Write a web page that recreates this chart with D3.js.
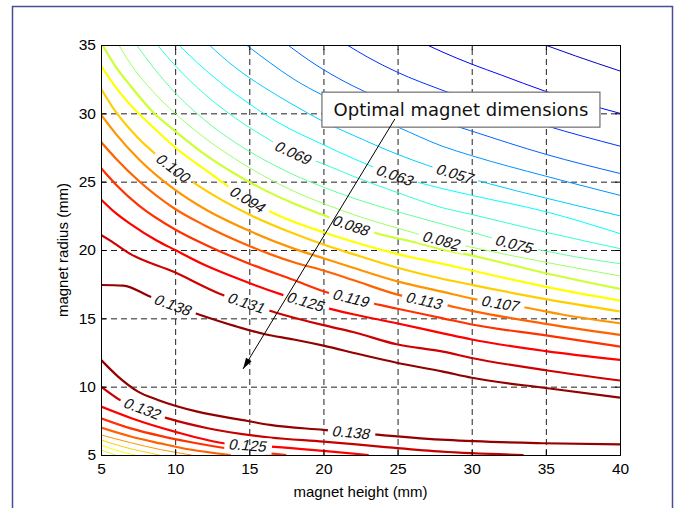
<!DOCTYPE html>
<html>
<head>
<meta charset="utf-8">
<script src="https://cdn.jsdelivr.net/npm/d3@7"></script>
<style>
  body { margin: 0; background: #fff; }
  text { font-family: "Liberation Sans", Arial, sans-serif; }
</style>
</head>
<body>
<svg width="689" height="508"></svg>
<script>
"use strict";

// axis ticks
const heightTicks = [5, 10, 15, 20, 25, 30, 35, 40];
const radiusTicks = [5, 10, 15, 20, 25, 30, 35];

// contour lines: [magnet height mm, magnet radius mm]
const line025 = [[34.95, 35], [37, 34.2], [40, 33.1]];
const line032 = [[27.0, 35], [28, 34.5], [30, 33.6], [32, 32.8], [35, 31.6], [40, 30.0]];
const line038 = [[21.6, 35], [23, 34.1], [25, 33.0], [28, 31.7], [30, 30.9], [35, 29.1], [40, 27.6]];
const line044 = [[17.6, 35], [19, 33.9], [20, 33.2], [22, 32.0], [25, 30.6], [28, 29.4], [30, 28.7], [35, 27.0], [40, 25.6]];
const line050 = [[14.8, 35], [16.4, 33.7], [18, 32.5], [20, 31.3], [22, 30.3], [25, 29.0], [28, 27.6], [30, 26.9], [35, 25.4], [40, 24.0]];
const line057 = [[12.3, 35], [14, 33.4], [16, 31.9], [18, 30.6], [20, 29.4], [22, 28.4], [25, 27.0], [27, 26.2], [31, 24.9], [35, 23.8], [40, 22.5]];
const line063 = [[10.25, 35], [11.5, 33.7], [13, 32.3], [15, 30.7], [17, 29.3], [20, 27.7], [22, 26.7], [25, 25.4], [28, 24.5], [30, 24.0], [35, 22.8], [40, 21.2]];
const line069 = [[8.8, 35], [10, 33.5], [12, 31.4], [14, 29.7], [16, 28.3], [18, 27.1], [20, 26.3], [22, 25.4], [25, 24.2], [28, 23.1], [30, 22.6], [35, 21.3], [40, 20.1]];
const line075 = [[7.4, 35], [8.5, 33.4], [10, 31.5], [12, 29.5], [14, 27.9], [16, 26.6], [18, 25.5], [20, 24.6], [22, 23.8], [25, 22.8], [28, 21.9], [30, 21.3], [33, 20.4], [36, 19.7], [40, 19.0]];
const line082 = [[6.2, 35], [7, 33.6], [8.5, 31.6], [10, 30.0], [12, 28.2], [14, 26.7], [16, 25.4], [18, 24.3], [20, 23.4], [22, 22.6], [25, 21.6], [28, 20.7], [30, 20.2], [35, 19.1], [40, 18.1]];
const line088 = [[5.1, 35], [6, 33.4], [7, 32.0], [8.5, 30.1], [10, 28.7], [12, 27.0], [14, 25.6], [16, 24.4], [18, 23.4], [20, 22.56], [22, 21.75], [24, 21.1], [26, 20.6], [28, 20.05], [30, 19.6], [35, 18.3], [40, 17.15]];
const line094 = [[5, 33.5], [6, 31.9], [7, 30.6], [8.5, 29.0], [10, 27.5], [12, 25.9], [14.9, 23.7], [17, 22.5], [20, 21.3], [22, 20.6], [25, 19.7], [28, 19.0], [30, 18.5], [35, 17.3], [40, 16.3]];
const line100 = [[5, 31.8], [6, 30.1], [7.5, 28.2], [9.86, 26.0], [12, 24.4], [15, 22.6], [18, 21.2], [20, 20.4], [22, 19.7], [25, 18.7], [28, 17.9], [30, 17.45], [35, 16.4], [40, 15.5]];
const line107 = [[5, 29.9], [6, 28.5], [7.5, 26.7], [10, 24.4], [12, 23.0], [15, 21.4], [18, 20.1], [20, 19.4], [22, 18.7], [25, 17.7], [28, 16.95], [30.2, 16.4], [33.9, 15.74], [36, 15.3], [40, 14.64]];
const line113 = [[5, 27.9], [6, 26.7], [7.5, 25.1], [10, 23.0], [12, 21.8], [15, 20.3], [16.4, 19.7], [18, 19.1], [20, 18.5], [22, 17.8], [24.94, 16.75], [28.7, 15.86], [30, 15.55], [35, 14.6], [40, 13.79]];
const line119 = [[5, 26.0], [6, 24.8], [7.5, 23.3], [10, 21.5], [12, 20.4], [15, 19.0], [18, 17.8], [20.1, 16.95], [23.8, 15.98], [25, 15.7], [28.06, 15.0], [30, 14.55], [35, 13.75], [40, 12.93]];
const line125 = [[5, 23.7], [6, 22.7], [7, 21.9], [8.75, 20.7], [10, 20.0], [12, 18.9], [14, 18.0], [17.3, 16.7], [20.8, 15.6], [22, 15.3], [24.94, 14.64], [28.06, 13.9], [30, 13.45], [35, 12.6], [40, 11.96]];
const line131 = [[5, 21.1], [5.6, 20.7], [7, 19.7], [9.9, 18.4], [13, 16.8], [16.7, 15.45], [20, 14.5], [22, 14.0], [24.94, 13.1], [28.06, 12.56], [30, 12.1], [35, 11.2], [40, 10.45]];
const line138 = [[5, 17.44], [6.5, 17.4], [8.3, 16.6], [11.7, 15.25], [14, 14.45], [16, 13.85], [18, 13.45], [20, 13.0], [22.5, 12.35], [24.94, 11.75], [28.06, 11.1], [30, 10.65], [35, 9.9], [40, 9.2]];

// lower family, bottom-left corner
const low138 = [[5, 11.96], [6.15, 10.74], [7.5, 9.64], [8.84, 9.03], [11.5, 8.17], [14.9, 7.49], [16.4, 7.2], [20, 6.84], [23.8, 6.47], [28.3, 6.1], [34.8, 5.86], [40, 5.78]];
const low132 = [[5, 10.0], [6.26, 9.03], [9.63, 7.64], [12.2, 6.96], [16.4, 6.28], [20, 5.98], [24, 5.6], [28, 5.25], [33.5, 5.0]];
const low125 = [[5, 8.54], [7.05, 7.69], [9.97, 6.71], [13.56, 5.81], [16.7, 5.6], [20, 5.3], [23.05, 5.0]];
const low119 = [[5, 7.69], [7, 6.95], [9, 6.4], [11, 5.95], [14, 5.4], [17.5, 5.0]];
const low113 = [[5, 7.0], [7, 6.35], [9, 5.85], [11, 5.4], [13.74, 5.0]];
const low107 = [[5, 6.47], [7, 5.9], [9, 5.4], [11.1, 5.0]];
const low100 = [[5, 6.1], [6.5, 5.6], [8.95, 5.0]];
const low094 = [[5, 5.73], [6, 5.35], [7.3, 5.0]];
const low088 = [[5, 5.37], [5.98, 5.0]];

const upperLevels = [0.025, 0.032, 0.038, 0.044, 0.050, 0.057, 0.063, 0.069, 0.075, 0.082, 0.088, 0.094, 0.100, 0.107, 0.113, 0.119, 0.125, 0.131, 0.138];
const upperLines = [line025, line032, line038, line044, line050, line057, line063, line069, line075, line082, line088, line094, line100, line107, line113, line119, line125, line131, line138];
const lowerLevels = [0.138, 0.132, 0.125, 0.119, 0.113, 0.107, 0.100, 0.094, 0.088];
const lowerLines = [low138, low132, low125, low119, low113, low107, low100, low094, low088];

// inline labels: text, the line it sits on, and its height position
const labelTexts = ["0.069", "0.063", "0.057", "0.100", "0.094", "0.088", "0.082", "0.075", "0.119", "0.113", "0.107", "0.125", "0.131", "0.138", "0.132", "0.125", "0.138"];
const labelLines = [line069, line063, line057, line100, line094, line088, line082, line075, line119, line113, line107, line125, line131, line138, low132, low125, low138];
const labelHeights = [18.0, 24.86, 28.9, 9.9, 14.93, 21.9, 28.0, 32.9, 21.9, 26.84, 31.97, 18.84, 14.84, 9.89, 7.82, 14.93, 21.9];

// annotation: arrow from the text box to the optimum
const noteText = "Optimal magnet dimensions";
const arrowFrom = [24.82, 29.59];
const arrowTo = [14.58, 11.3];

const svg = d3.select("svg");
const width = +svg.attr("width");
const height = +svg.attr("height");
const margin = { top: 45, right: 69, bottom: 53, left: 101 };
const innerWidth = width - margin.left - margin.right;
const innerHeight = height - margin.top - margin.bottom;

// MATLAB jet colour map over the contour range
const jet = level => {
  const t = (level - 0.0167) / 0.1237;
  const c = v => Math.round(255 * Math.max(0, Math.min(1, v)));
  return `rgb(${c(1.5 - Math.abs(4 * t - 3))},${c(1.5 - Math.abs(4 * t - 2))},${c(1.5 - Math.abs(4 * t - 1))})`;
};

svg.append("path")
  .attr("d", `M12.5,${height}V6.5H672.5V${height}`)
  .attr("fill", "none")
  .attr("stroke", "#4b4b9b")
  .attr("stroke-width", 1.5);

const xScale = d3.scaleLinear().domain([5, 40]).range([0, innerWidth]);
const yScale = d3.scaleLinear().domain([5, 35]).range([innerHeight, 0]);

const g = svg.append("g").attr("transform", `translate(${margin.left},${margin.top})`);
const defs = svg.append("defs");
defs.append("clipPath").attr("id", "plotClip")
  .append("rect").attr("width", innerWidth).attr("height", innerHeight);

// dashed grid
g.append("g")
  .attr("class", "grid")
  .attr("transform", `translate(0,${innerHeight})`)
  .call(d3.axisBottom(xScale).tickValues(heightTicks.slice(1, -1)).tickSize(-innerHeight).tickFormat(""));
g.append("g")
  .attr("class", "grid")
  .call(d3.axisLeft(yScale).tickValues(radiusTicks.slice(1, -1)).tickSize(-innerWidth).tickFormat(""));
g.selectAll(".grid .domain").remove();
g.selectAll(".grid text").remove();
g.selectAll(".grid line")
  .attr("stroke", "#222")
  .attr("stroke-width", 1)
  .attr("stroke-dasharray", "6,4");

const rAt = (pts, h) => {
  for (let i = 1; i < pts.length; i++) {
    if (h <= pts[i][0]) {
      const a = pts[i - 1], b = pts[i];
      return a[1] + (b[1] - a[1]) * (h - a[0]) / (b[0] - a[0]);
    }
  }
  return pts[pts.length - 1][1];
};

// labels and the gaps they cut in the lines
const mask = defs.append("mask")
  .attr("id", "labelGaps")
  .attr("maskUnits", "userSpaceOnUse")
  .attr("x", -20).attr("y", -20)
  .attr("width", innerWidth + 40).attr("height", innerHeight + 40);
mask.append("rect")
  .attr("x", -20).attr("y", -20)
  .attr("width", innerWidth + 40).attr("height", innerHeight + 40)
  .attr("fill", "white");

const contourG = g.append("g").attr("clip-path", "url(#plotClip)");
const linesG = contourG.append("g").attr("mask", "url(#labelGaps)");
const labelG = g.append("g");

const lineGen = d3.line()
  .x(d => xScale(d[0]))
  .y(d => yScale(d[1]))
  .curve(d3.curveMonotoneX);

const contours = upperLines.map((pts, i) => ({ pts, level: upperLevels[i], lower: false }))
  .concat(lowerLines.map((pts, i) => ({ pts, level: lowerLevels[i], lower: true })));

linesG.selectAll("path")
  .data(contours)
  .enter()
  .append("path")
  .attr("d", d => lineGen(d.pts))
  .attr("fill", "none")
  .attr("stroke", d => jet(d.level))
  .attr("stroke-width", d => (d.level < 0.085 || (d.lower && d.level < 0.11) ? 1 : 2.2))
  .attr("stroke-linejoin", "round");

labelTexts.forEach((txt, i) => {
  const pts = labelLines[i];
  const h = labelHeights[i];
  const px = xScale(h), py = yScale(rAt(pts, h));
  const ax = xScale(h - 0.8), ay = yScale(rAt(pts, h - 0.8));
  const bx = xScale(h + 0.8), by = yScale(rAt(pts, h + 0.8));
  const angle = Math.atan2(by - ay, bx - ax) * 180 / Math.PI;
  // slanted like the original labels
  const t = labelG.append("text")
    .attr("transform", `translate(${px},${py}) rotate(${angle}) skewX(-13)`)
    .attr("text-anchor", "middle")
    .attr("dy", "0.36em")
    .attr("font-size", 15)
    .attr("fill", "#111")
    .text(txt);
  const w = t.node().getComputedTextLength() + 10;
  mask.append("rect")
    .attr("x", -w / 2).attr("y", -8)
    .attr("width", w).attr("height", 16)
    .attr("transform", `translate(${px},${py}) rotate(${angle})`)
    .attr("fill", "black");
});

// axes with inward ticks on all four sides
const xAxisG = g.append("g")
  .attr("transform", `translate(0,${innerHeight})`)
  .call(d3.axisBottom(xScale).tickValues(heightTicks).tickSize(-5).tickPadding(8).tickFormat(d3.format("d")));
const yAxisG = g.append("g")
  .call(d3.axisLeft(yScale).tickValues(radiusTicks).tickSize(-5).tickPadding(5).tickFormat(d3.format("d")));
const topAxisG = g.append("g")
  .call(d3.axisTop(xScale).tickValues(heightTicks).tickSize(-5).tickFormat(""));
const rightAxisG = g.append("g").attr("transform", `translate(${innerWidth},0)`)
  .call(d3.axisRight(yScale).tickValues(radiusTicks).tickSize(-5).tickFormat(""));
topAxisG.selectAll("text").remove();
rightAxisG.selectAll("text").remove();
g.selectAll(".domain").attr("stroke", "#000");
g.selectAll(".tick text").attr("font-size", 15.5).attr("fill", "#000")
  .style("font-family", "'Liberation Sans', Arial, sans-serif");

xAxisG.append("text")
  .attr("x", innerWidth / 2)
  .attr("y", 42)
  .attr("fill", "#000")
  .attr("font-size", 15)
  .attr("text-anchor", "middle")
  .text("magnet height (mm)");

yAxisG.append("text")
  .attr("transform", "rotate(-90)")
  .attr("x", -innerHeight / 2)
  .attr("y", -33)
  .attr("fill", "#000")
  .attr("font-size", 15)
  .attr("text-anchor", "middle")
  .text("magnet radius (mm)");

// annotation box and arrow
const note = g.append("g");
const boxX = xScale(19.9), boxY = yScale(31.55);
note.append("rect")
  .attr("x", boxX).attr("y", boxY)
  .attr("width", 278).attr("height", 35)
  .attr("fill", "#fff")
  .attr("stroke", "#6e6e6e")
  .attr("stroke-width", 1.2);
note.append("text")
  .attr("x", boxX + 139).attr("y", boxY + 24)
  .attr("text-anchor", "middle")
  .attr("font-size", 18)
  .style("font-family", "'DejaVu Sans', Verdana, sans-serif")
  .attr("fill", "#111")
  .text(noteText);

const x1 = xScale(arrowFrom[0]), y1 = yScale(arrowFrom[1]);
const x2 = xScale(arrowTo[0]), y2 = yScale(arrowTo[1]);
note.append("line")
  .attr("x1", x1).attr("y1", y1).attr("x2", x2).attr("y2", y2)
  .attr("stroke", "#000").attr("stroke-width", 1);
const ang = Math.atan2(y2 - y1, x2 - x1);
const headLen = 11, headHalf = 3.2;
const bx = x2 - headLen * Math.cos(ang), by = y2 - headLen * Math.sin(ang);
note.append("path")
  .attr("d", `M${x2},${y2}L${bx + headHalf * Math.sin(ang)},${by - headHalf * Math.cos(ang)}L${bx - headHalf * Math.sin(ang)},${by + headHalf * Math.cos(ang)}Z`)
  .attr("fill", "#000");
</script>
</body>
</html>
